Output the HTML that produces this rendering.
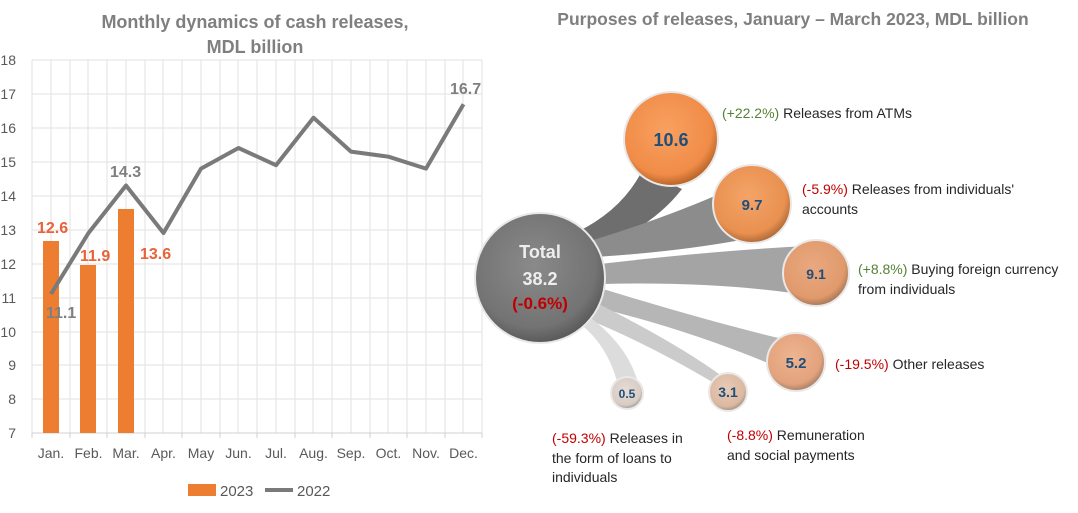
<!DOCTYPE html>
<html><head><meta charset="utf-8"><style>
body{margin:0;background:#fff}
svg text{font-family:"Liberation Sans",Calibri,sans-serif}
</style></head><body>
<svg width="1078" height="508" viewBox="0 0 1078 508" xmlns="http://www.w3.org/2000/svg">
<defs>
<radialGradient id="gt" cx="45%" cy="40%" r="60%"><stop offset="0" stop-color="#8a8a8a"/><stop offset="0.8" stop-color="#737373"/><stop offset="1" stop-color="#5a5a5a"/></radialGradient>
<radialGradient id="o1" cx="45%" cy="40%" r="60%"><stop offset="0" stop-color="#f9a060"/><stop offset="0.8" stop-color="#f08c48"/><stop offset="1" stop-color="#b86428"/></radialGradient>
<radialGradient id="o2" cx="45%" cy="40%" r="60%"><stop offset="0" stop-color="#f4a468"/><stop offset="0.8" stop-color="#e89050"/><stop offset="1" stop-color="#b06a38"/></radialGradient>
<radialGradient id="o3" cx="45%" cy="40%" r="60%"><stop offset="0" stop-color="#eaa880"/><stop offset="0.8" stop-color="#e09a6c"/><stop offset="1" stop-color="#a87858"/></radialGradient>
<radialGradient id="o4" cx="45%" cy="40%" r="60%"><stop offset="0" stop-color="#eeb490"/><stop offset="0.8" stop-color="#e2a27c"/><stop offset="1" stop-color="#a88068"/></radialGradient>
<radialGradient id="o5" cx="45%" cy="40%" r="60%"><stop offset="0" stop-color="#e8cbb8"/><stop offset="0.8" stop-color="#dcb8a0"/><stop offset="1" stop-color="#a09080"/></radialGradient>
<radialGradient id="o6" cx="45%" cy="40%" r="60%"><stop offset="0" stop-color="#e6dcd6"/><stop offset="0.8" stop-color="#d8ccc4"/><stop offset="1" stop-color="#9a9490"/></radialGradient>
</defs>
<text x="255" y="28" text-anchor="middle" font-size="18" font-weight="bold" fill="#7f7f7f">Monthly dynamics of cash releases,</text>
<text x="255" y="53" text-anchor="middle" font-size="18" font-weight="bold" fill="#7f7f7f">MDL billion</text>
<g stroke="#e2e2e2" stroke-width="1">
<line x1="32" y1="60" x2="482" y2="60"/><line x1="32" y1="94" x2="482" y2="94"/><line x1="32" y1="128" x2="482" y2="128"/><line x1="32" y1="162" x2="482" y2="162"/><line x1="32" y1="196" x2="482" y2="196"/><line x1="32" y1="230" x2="482" y2="230"/><line x1="32" y1="264" x2="482" y2="264"/><line x1="32" y1="298" x2="482" y2="298"/><line x1="32" y1="332" x2="482" y2="332"/><line x1="32" y1="365" x2="482" y2="365"/><line x1="32" y1="399" x2="482" y2="399"/>
<line x1="32" y1="60" x2="32" y2="433"/><line x1="51" y1="60" x2="51" y2="433"/><line x1="70" y1="60" x2="70" y2="433"/><line x1="88" y1="60" x2="88" y2="433"/><line x1="107" y1="60" x2="107" y2="433"/><line x1="126" y1="60" x2="126" y2="433"/><line x1="145" y1="60" x2="145" y2="433"/><line x1="163" y1="60" x2="163" y2="433"/><line x1="182" y1="60" x2="182" y2="433"/><line x1="201" y1="60" x2="201" y2="433"/><line x1="220" y1="60" x2="220" y2="433"/><line x1="238" y1="60" x2="238" y2="433"/><line x1="257" y1="60" x2="257" y2="433"/><line x1="276" y1="60" x2="276" y2="433"/><line x1="295" y1="60" x2="295" y2="433"/><line x1="313" y1="60" x2="313" y2="433"/><line x1="332" y1="60" x2="332" y2="433"/><line x1="351" y1="60" x2="351" y2="433"/><line x1="370" y1="60" x2="370" y2="433"/><line x1="388" y1="60" x2="388" y2="433"/><line x1="407" y1="60" x2="407" y2="433"/><line x1="426" y1="60" x2="426" y2="433"/><line x1="445" y1="60" x2="445" y2="433"/><line x1="463" y1="60" x2="463" y2="433"/><line x1="482" y1="60" x2="482" y2="433"/>
</g>
<g stroke="#d0d0d0"><line x1="32" y1="433" x2="482" y2="433"/>
<line x1="32" y1="433" x2="32" y2="438"/><line x1="70" y1="433" x2="70" y2="438"/><line x1="107" y1="433" x2="107" y2="438"/><line x1="145" y1="433" x2="145" y2="438"/><line x1="182" y1="433" x2="182" y2="438"/><line x1="220" y1="433" x2="220" y2="438"/><line x1="257" y1="433" x2="257" y2="438"/><line x1="295" y1="433" x2="295" y2="438"/><line x1="332" y1="433" x2="332" y2="438"/><line x1="370" y1="433" x2="370" y2="438"/><line x1="407" y1="433" x2="407" y2="438"/><line x1="445" y1="433" x2="445" y2="438"/><line x1="482" y1="433" x2="482" y2="438"/></g>
<g font-size="14" fill="#595959" text-anchor="end">
<text x="16" y="65">18</text><text x="16" y="99">17</text><text x="16" y="133">16</text><text x="16" y="167">15</text><text x="16" y="201">14</text><text x="16" y="235">13</text><text x="16" y="269">12</text><text x="16" y="303">11</text><text x="16" y="337">10</text><text x="16" y="370">9</text><text x="16" y="404">8</text><text x="16" y="438">7</text>
</g>
<g font-size="14" fill="#595959" text-anchor="middle">
<text x="51" y="458">Jan.</text><text x="88.5" y="458">Feb.</text><text x="126" y="458">Mar.</text><text x="163.5" y="458">Apr.</text><text x="201" y="458">May</text><text x="238.5" y="458">Jun.</text><text x="276" y="458">Jul.</text><text x="313.5" y="458">Aug.</text><text x="351" y="458">Sep.</text><text x="388.5" y="458">Oct.</text><text x="426" y="458">Nov.</text><text x="463.5" y="458">Dec.</text>
</g>
<g fill="#ed7d31">
<rect x="43" y="241" width="16" height="192"/><rect x="80" y="265" width="16" height="168"/><rect x="118" y="209" width="16" height="224"/>
</g>
<polyline fill="none" stroke="#7a7a7a" stroke-width="4" stroke-linejoin="round" points="51,294 88.5,233 126,185.5 163.5,233 201,168.6 238.5,148 276,165.2 313.5,117.7 351,151.6 388.5,156.7 426,168.6 463.5,104.2"/>
<g font-size="16" font-weight="bold">
<text x="37" y="233" fill="#e8623a">12.6</text><text x="80" y="261" fill="#e8623a">11.9</text><text x="140" y="259" fill="#e8623a">13.6</text>
<text x="46" y="318" fill="#7f7f7f">11.1</text><text x="110" y="177" fill="#7f7f7f">14.3</text><text x="450" y="94" fill="#7f7f7f">16.7</text>
</g>
<rect x="188" y="484" width="28" height="12" fill="#ed7d31"/><text x="220" y="496" font-size="15" fill="#595959">2023</text>
<line x1="265" y1="490" x2="293" y2="490" stroke="#7a7a7a" stroke-width="4"/><text x="297" y="496" font-size="15" fill="#595959">2022</text>
<text x="793" y="25" text-anchor="middle" font-size="17.5" font-weight="bold" fill="#7f7f7f">Purposes of releases, January – March 2023, MDL billion</text>
<path d="M577,232 Q622,210 642,171 L682,189 Q652,228 593,250 Z" fill="#6e6e6e"/>
<path d="M590,241 Q665,218 724,192 L741,240 Q675,252 595,257 Z" fill="#8c8c8c"/>
<path d="M600,264 Q720,250 809,246 L812,296 Q720,281 602,284 Z" fill="#a4a4a4"/>
<path d="M600,288 Q710,322 787,340 L780,368 Q690,330 595,307 Z" fill="#b6b6b6"/>
<path d="M593,301 Q680,345 723,377 L714,383 Q645,342 582,317 Z" fill="#cbcbcb"/>
<path d="M587,315 Q628,345 638,383 L618,385 Q608,345 579,323 Z" fill="#dcdcdc"/>
<g stroke="#e8e8e8" stroke-width="2">
<circle cx="540" cy="278" r="65" fill="url(#gt)"/>
<circle cx="671" cy="139" r="47" fill="url(#o1)"/>
<circle cx="752" cy="204" r="39" fill="url(#o2)"/>
<circle cx="816" cy="273" r="33" fill="url(#o3)"/>
<circle cx="796" cy="362" r="29" fill="url(#o4)"/>
<circle cx="728" cy="392" r="19" fill="url(#o5)"/>
<circle cx="627" cy="393" r="16" fill="url(#o6)"/>
</g>
<g font-weight="bold" text-anchor="middle" fill="#1f4e79">
<text x="671" y="146" font-size="18">10.6</text>
<text x="752" y="210" font-size="15">9.7</text>
<text x="816" y="279" font-size="14">9.1</text>
<text x="796" y="368" font-size="15">5.2</text>
<text x="728" y="397" font-size="14">3.1</text>
<text x="627" y="398" font-size="12">0.5</text>
<text x="540" y="258" font-size="18" fill="#eeeeee">Total</text>
<text x="540" y="285" font-size="18" fill="#eeeeee">38.2</text>
<text x="540" y="309" font-size="17" fill="#c00000">(-0.6%)</text>
</g>
<g font-size="14" fill="#262626">
<text x="722" y="118"><tspan fill="#548235">(+22.2%)</tspan> Releases from ATMs</text>
<text x="802" y="194"><tspan fill="#c00000">(-5.9%)</tspan> Releases from individuals'</text>
<text x="802" y="214">accounts</text>
<text x="858" y="274"><tspan fill="#548235">(+8.8%)</tspan>  Buying foreign currency</text>
<text x="858" y="294">from individuals</text>
<text x="835" y="369"><tspan fill="#c00000">(-19.5%)</tspan> Other releases</text>
<text x="727" y="440"><tspan fill="#c00000">(-8.8%)</tspan> Remuneration</text>
<text x="727" y="460">and social payments</text>
<text x="552" y="443"><tspan fill="#c00000">(-59.3%)</tspan> Releases in</text>
<text x="552" y="463">the form of loans to</text>
<text x="552" y="482">individuals</text>
</g>
</svg>
</body></html>
